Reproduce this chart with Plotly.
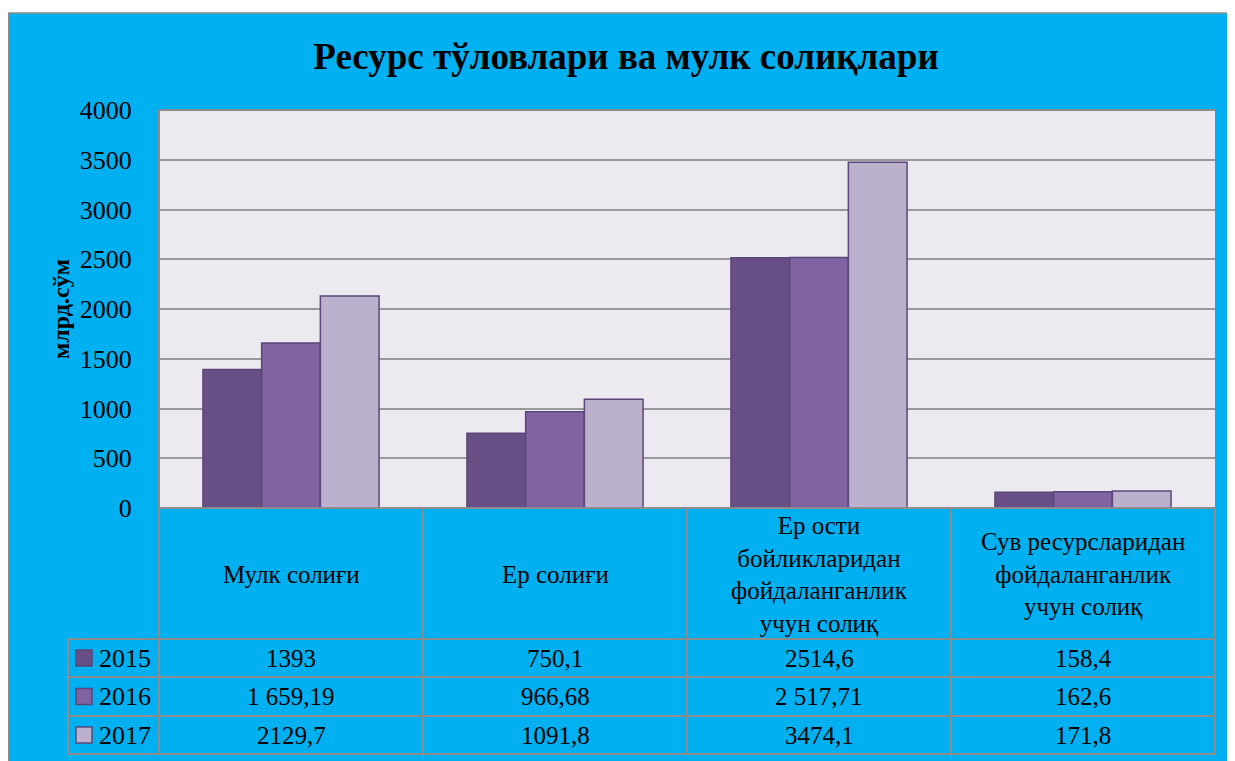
import plotly.graph_objects as go

# ---------------- data ----------------
categories = ["Мулк солиғи", "Ер солиғи",
              "Ер ости бойликларидан фойдаланганлик учун солиқ",
              "Сув ресурсларидан фойдаланганлик учун солиқ"]
category_labels = ["Мулк солиғи", "Ер солиғи",
                   "Ер ости<br>бойликларидан<br>фойдаланганлик<br>учун солиқ",
                   "Сув ресурсларидан<br>фойдаланганлик<br>учун солиқ"]
years = ["2015", "2016", "2017"]
values_2015 = [1393, 750.1, 2514.6, 158.4]
values_2016 = [1659.19, 966.68, 2517.71, 162.6]
values_2017 = [2129.7, 1091.8, 3474.1, 171.8]
labels_2015 = ["1393", "750,1", "2514,6", "158,4"]
labels_2016 = ["1 659,19", "966,68", "2 517,71", "162,6"]
labels_2017 = ["2129,7", "1091,8", "3474,1", "171,8"]
y_ticks = [0, 500, 1000, 1500, 2000, 2500, 3000, 3500, 4000]
title_text = "Ресурс тўловлари ва мулк солиқлари"
y_title = "млрд.сўм"

# ---------------- style ----------------
OFF = 8  # page body margin
W, H = 1235 - OFF, 761 - OFF
# reference-pixel layout of plot area
PX0, PX1, PY0, PY1 = 159, 1215, 110, 508
L, T = PX0 - OFF, PY0 - OFF
R = W - (PX1 - OFF)
B = H - (PY1 - OFF)
PW, PH = PX1 - PX0, PY1 - PY0
colors = ["#684F86", "#8064A2", "#BBB1CC"]
outline = "#5B4679"
blue = "#00B0F0"
grid = "#999999"
FONT = "Liberation Serif"

def px(x):  # reference pixel x -> paper
    return (x - PX0) / PW

def py(y):  # reference pixel y -> paper
    return (PY1 - y) / PH

fig = go.Figure()
series = [values_2015, values_2016, values_2017]
for name, vals, c in zip(years, series, colors):
    fig.add_trace(go.Bar(x=categories, y=vals, name=name,
                         marker=dict(color=c, line=dict(color=outline, width=1.5))))

shapes = []
annotations = []

# white strip at top + gray frame of blue box
shapes.append(dict(type="rect", xref="paper", yref="paper", x0=px(0), x1=px(1260),
                   y0=py(0), y1=py(13), fillcolor="white", line_width=0, layer="below"))
shapes.append(dict(type="line", xref="paper", yref="paper", x0=px(8), x1=px(1260),
                   y0=py(13), y1=py(13), line=dict(color="#8C8C8C", width=1.5)))
shapes.append(dict(type="line", xref="paper", yref="paper", x0=px(8.5), x1=px(8.5),
                   y0=py(13), y1=py(770), line=dict(color="#8C8C8C", width=1.5)))

# plot area border (top & left)
shapes.append(dict(type="line", xref="paper", yref="paper", x0=0, x1=1, y0=1, y1=1,
                   line=dict(color="#8C8C8C", width=2)))
shapes.append(dict(type="line", xref="paper", yref="paper", x0=0, x1=0, y0=0, y1=1,
                   line=dict(color="#8C8C8C", width=2)))

# table grid
tcol = "#8C8C8C"
row_edges = [508, 639, 677, 716, 754]
col_edges = [PX0 + i * PW / 4 for i in range(5)]
for i, ye in enumerate(row_edges):
    x0 = PX0 if i == 0 else 68
    shapes.append(dict(type="line", xref="paper", yref="paper", x0=px(x0), x1=px(PX1),
                       y0=py(ye), y1=py(ye), line=dict(color=tcol, width=2)))
for xe in col_edges:
    shapes.append(dict(type="line", xref="paper", yref="paper", x0=px(xe), x1=px(xe),
                       y0=py(508), y1=py(row_edges[-1]), line=dict(color=tcol, width=2)))
shapes.append(dict(type="line", xref="paper", yref="paper", x0=px(68), x1=px(68),
                   y0=py(639), y1=py(row_edges[-1]), line=dict(color=tcol, width=2)))

# category labels
for cat, lab in zip(categories, category_labels):
    annotations.append(dict(x=cat, xref="x", y=py(574), yref="paper", text=lab,
                            showarrow=False, xanchor="center", yanchor="middle",
                            font=dict(family=FONT, size=25, color="black")))

# rows
row_centers = [(row_edges[i] + row_edges[i + 1]) / 2 for i in range(1, 4)]
row_labels = [labels_2015, labels_2016, labels_2017]
for yr, c, yc, labs in zip(years, colors, row_centers, row_labels):
    shapes.append(dict(type="rect", xref="paper", yref="paper", x0=px(76), x1=px(92),
                       y0=py(yc + 8), y1=py(yc - 8), fillcolor=c,
                       line=dict(color=outline, width=1.5)))
    annotations.append(dict(x=px(97), xref="paper", y=py(yc), yref="paper", text=yr,
                            showarrow=False, xanchor="left", yanchor="middle",
                            font=dict(family=FONT, size=26, color="black")))
    for cat, lab in zip(categories, labs):
        annotations.append(dict(x=cat, xref="x", y=py(yc), yref="paper", text=lab,
                                showarrow=False, xanchor="center", yanchor="middle",
                                font=dict(family=FONT, size=25, color="black")))

# y title
annotations.append(dict(x=px(61), xref="paper", y=py(309), yref="paper", text=y_title,
                        textangle=-90, showarrow=False, xanchor="center", yanchor="middle",
                        font=dict(family=FONT, size=24, color="black", weight="bold")))

fig.update_layout(
    width=W, height=H,
    margin=dict(l=L, r=R, t=T, b=B),
    paper_bgcolor=blue,
    plot_bgcolor="#ECEAF0",
    showlegend=False,
    barmode="group",
    bargap=0.333, bargroupgap=0,
    title=dict(text="<b>" + title_text + "</b>", x=(626 - OFF) / W, xanchor="center",
               y=1 - (56 - OFF) / H, yanchor="middle",
               font=dict(family=FONT, size=37, color="black")),
    xaxis=dict(showticklabels=False, showgrid=False, zeroline=False, showline=False,
               range=[-0.5, 3.5]),
    yaxis=dict(range=[0, 4000], tickvals=y_ticks, ticktext=[str(t) for t in y_ticks],
               showgrid=True, gridcolor=grid, gridwidth=2, zeroline=False,
               ticks="outside", ticklen=21, tickcolor="rgba(0,0,0,0)",
               tickfont=dict(family=FONT, size=26, color="black")),
    shapes=shapes,
    annotations=annotations,
)

fig.write_html("out.html")
